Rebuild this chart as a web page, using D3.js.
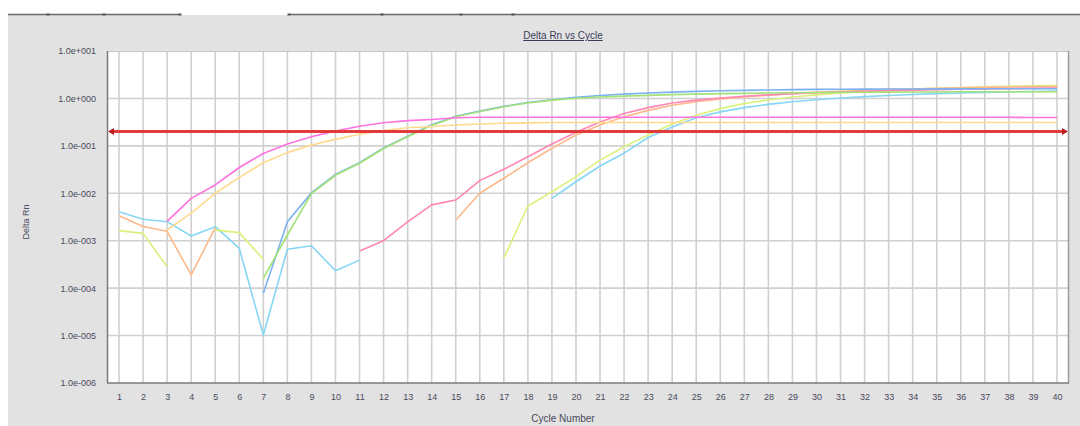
<!DOCTYPE html>
<html>
<head>
<meta charset="utf-8">
<script src="https://cdn.jsdelivr.net/npm/d3@7"></script>
<style>
  html, body { margin: 0; padding: 0; background: #ffffff; }
  svg { display: block; }
  text { font-family: "Liberation Sans", Arial, sans-serif; }
</style>
</head>
<body>
<svg id="chart" width="1080" height="426"></svg>
<script>
// ---------- data ----------
const cycles = [1,2,3,4,5,6,7,8,9,10,11,12,13,14,15,16,17,18,19,20,
                21,22,23,24,25,26,27,28,29,30,31,32,33,34,35,36,37,38,39,40];

const yTickValues = [1e-6, 1e-5, 1e-4, 1e-3, 1e-2, 1e-1, 1e0, 1e1];
const threshold = 0.2;

const lightBlue = [4.09e-3, 2.83e-3, 2.52e-3, 1.26e-3, 1.98e-3, 6.9e-4, 1.03e-5, 6.6e-4, 7.85e-4, 2.33e-4,
                   3.9e-4, null, null, null, null, null, null, null, 7.8e-3, 1.75e-2,
                   3.76e-2, 7.0e-2, 0.15, 0.25, 0.39, 0.52, 0.64, 0.75, 0.85, 0.94,
                   1.02, 1.09, 1.15, 1.21, 1.26, 1.30, 1.34, 1.37, 1.40, 1.43];

const yellowGreen = [1.63e-3, 1.43e-3, 2.83e-4, null, 1.67e-3, 1.48e-3, 4.05e-4, null, null, null,
                     null, null, null, null, null, null, 4.3e-4, 5.4e-3, 1.08e-2, 2.24e-2,
                     5.0e-2, 9.6e-2, 0.17, 0.29, 0.44, 0.61, 0.78, 0.93, 1.07, 1.19,
                     1.30, 1.40, 1.49, 1.57, 1.64, 1.70, 1.75, 1.80, 1.84, 1.88];

const orange = [3.37e-3, 2.0e-3, 1.58e-3, 1.9e-4, 1.88e-3, null, null, null, null, null,
                null, null, null, null, 2.7e-3, 1.0e-2, 2.07e-2, 4.4e-2, 8.9e-2, 0.17,
                0.275, 0.41, 0.56, 0.72, 0.85, 0.97, 1.08, 1.17, 1.26, 1.34,
                1.41, 1.47, 1.53, 1.58, 1.63, 1.67, 1.71, 1.74, 1.77, 1.79];

const pink = [null, null, null, null, null, null, null, null, null, null,
              6.1e-4, 1.0e-3, 2.5e-3, 5.7e-3, 7.2e-3, 1.85e-2, 3.2e-2, 5.9e-2, 0.109, 0.193,
              0.32, 0.48, 0.64, 0.80, 0.92, 1.02, 1.11, 1.19, 1.26, 1.32,
              1.37, 1.42, 1.46, 1.50, 1.53, 1.56, 1.59, 1.61, 1.63, 1.65];

const blue = [null, null, null, null, null, null, 7.8e-5, 2.5e-3, 1.02e-2, 0.025,
              0.044, 0.090, 0.16, 0.28, 0.42, 0.54, 0.68, 0.82, 0.94, 1.06,
              1.15, 1.23, 1.30, 1.36, 1.41, 1.45, 1.48, 1.51, 1.53, 1.55,
              1.56, 1.57, 1.58, 1.58, 1.59, 1.59, 1.60, 1.60, 1.60, 1.60];

const green = [null, null, null, null, null, null, 1.6e-4, 1.32e-3, 9.8e-3, 0.024,
               0.043, 0.088, 0.155, 0.27, 0.41, 0.53, 0.67, 0.80, 0.92, 1.01,
               1.07, 1.12, 1.16, 1.20, 1.23, 1.26, 1.28, 1.30, 1.32, 1.33,
               1.34, 1.35, 1.36, 1.37, 1.37, 1.38, 1.38, 1.38, 1.38, 1.38];

const yellow = [null, null, 1.7e-3, 3.8e-3, 1.0e-2, 2.17e-2, 4.4e-2, 7.2e-2, 0.104, 0.137,
                0.175, 0.21, 0.24, 0.255, 0.275, 0.29, 0.30, 0.305, 0.31, 0.31,
                0.31, 0.31, 0.31, 0.31, 0.31, 0.31, 0.31, 0.31, 0.31, 0.31,
                0.31, 0.31, 0.31, 0.31, 0.31, 0.31, 0.31, 0.31, 0.31, 0.31];

const magenta = [null, null, 2.55e-3, 7.8e-3, 1.5e-2, 3.5e-2, 6.9e-2, 0.109, 0.156, 0.206,
                 0.26, 0.308, 0.34, 0.36, 0.39, 0.40, 0.40, 0.40, 0.40, 0.40,
                 0.40, 0.40, 0.40, 0.40, 0.40, 0.40, 0.40, 0.40, 0.40, 0.40,
                 0.40, 0.40, 0.40, 0.40, 0.40, 0.40, 0.40, 0.40, 0.395, 0.395];

const seriesList = [
  { values: lightBlue,   color: "#86d6f6" },
  { values: yellowGreen, color: "#d9f27c" },
  { values: orange,      color: "#ffb88a" },
  { values: pink,        color: "#ff86b6" },
  { values: blue,        color: "#7cb2f0" },
  { values: green,       color: "#a2e276" },
  { values: yellow,      color: "#ffd98c" },
  { values: magenta,     color: "#ff72e0" }
];

// ---------- layout ----------
const W = 1080, H = 426;
const plot = { left: 107, right: 1069, top: 51, bottom: 383 };

const svg = d3.select("#chart");

// white area + tab strip
svg.append("rect").attr("x", 0).attr("y", 0).attr("width", W).attr("height", H).attr("fill", "#ffffff");
svg.append("rect").attr("x", 8).attr("y", 15).attr("width", W - 8).attr("height", H - 15).attr("fill", "#e2e2e2");

const tabSegs = [[8, 180], [289, 1080]];
tabSegs.forEach(s => {
  svg.append("line").attr("x1", s[0]).attr("x2", s[1]).attr("y1", 14.5).attr("y2", 14.5)
    .attr("stroke", "#6a6a6a").attr("stroke-width", 1.6);
});
[48, 104, 180, 289, 382, 461, 513].forEach(x => {
  svg.append("rect").attr("x", x - 1.5).attr("y", 13.5).attr("width", 3).attr("height", 2).attr("fill", "#555");
});

// plot background
svg.append("rect").attr("x", plot.left).attr("y", plot.top)
  .attr("width", plot.right - plot.left).attr("height", plot.bottom - plot.top)
  .attr("fill", "#ffffff");

const x = d3.scaleLinear().domain([0.5, 40.5]).range([plot.left, plot.right]);
const y = d3.scaleLog().domain([1e-6, 10]).range([plot.bottom, plot.top]);

// grid
const grid = svg.append("g");
grid.selectAll("line.v").data(cycles).join("line")
  .attr("x1", d => x(d)).attr("x2", d => x(d))
  .attr("y1", plot.top).attr("y2", plot.bottom)
  .attr("stroke", "#d0d0d0").attr("stroke-width", 1.6);
grid.selectAll("line.h").data(yTickValues.slice(1, -1)).join("line")
  .attr("x1", plot.left).attr("x2", plot.right)
  .attr("y1", d => y(d)).attr("y2", d => y(d))
  .attr("stroke", "#d0d0d0").attr("stroke-width", 1.6);

// frame
svg.append("line").attr("x1", plot.left).attr("x2", plot.right).attr("y1", plot.top + 0.5).attr("y2", plot.top + 0.5)
  .attr("stroke", "#c8c8c8").attr("stroke-width", 1);
svg.append("line").attr("x1", plot.right - 0.5).attr("x2", plot.right - 0.5).attr("y1", plot.top).attr("y2", plot.bottom)
  .attr("stroke", "#9a9a9a").attr("stroke-width", 1.5);
svg.append("line").attr("x1", plot.left + 0.5).attr("x2", plot.left + 0.5).attr("y1", plot.top).attr("y2", plot.bottom)
  .attr("stroke", "#7a7a7a").attr("stroke-width", 1.5);
svg.append("line").attr("x1", plot.left).attr("x2", plot.right).attr("y1", plot.bottom).attr("y2", plot.bottom)
  .attr("stroke", "#7a7a7a").attr("stroke-width", 1.5);

// axes (labels only)
function fmt(v) {
  const e = Math.round(Math.log10(v));
  const s = e >= 0 ? "+" : "-";
  return "1.0e" + s + String(Math.abs(e)).padStart(3, "0");
}
const yAxis = d3.axisLeft(y).tickValues(yTickValues).tickFormat(fmt).tickSize(0).tickPadding(11);
const gy = svg.append("g").attr("transform", `translate(${plot.left},0)`).call(yAxis);
gy.select(".domain").remove();
gy.selectAll("text").attr("font-size", 9).attr("fill", "#4a4a5c")
  .attr("font-family", "'Liberation Sans', Arial, sans-serif");

const xAxis = d3.axisBottom(x).tickValues(cycles).tickFormat(d3.format("d")).tickSize(0).tickPadding(11);
const gx = svg.append("g").attr("transform", `translate(0,${plot.bottom})`).call(xAxis);
gx.select(".domain").remove();
gx.selectAll("text").attr("font-size", 9).attr("fill", "#4a4a5c")
  .attr("font-family", "'Liberation Sans', Arial, sans-serif");

// lines
const line = d3.line()
  .defined(d => d.v !== null)
  .x(d => x(d.c))
  .y(d => y(d.v));

const lines = svg.append("g").attr("fill", "none");
seriesList.forEach(s => {
  const pts = cycles.map((c, i) => ({ c: c, v: s.values[i] }));
  lines.append("path").datum(pts)
    .attr("d", line)
    .attr("stroke", s.color)
    .attr("stroke-width", 1.6)
    .attr("stroke-linejoin", "round");
});

// threshold
const ty = y(threshold);
svg.append("line").attr("x1", plot.left + 3).attr("x2", plot.right - 3)
  .attr("y1", ty).attr("y2", ty)
  .attr("stroke", "#e23b3b").attr("stroke-width", 3);
svg.append("path")
  .attr("d", `M${plot.left + 1},${ty} L${plot.left + 7},${ty - 3.5} L${plot.left + 7},${ty + 3.5} Z`)
  .attr("fill", "#b82020");
svg.append("path")
  .attr("d", `M${plot.right - 1},${ty} L${plot.right - 7},${ty - 3.5} L${plot.right - 7},${ty + 3.5} Z`)
  .attr("fill", "#b82020");

// titles
svg.append("text").attr("x", 563).attr("y", 39)
  .attr("text-anchor", "middle").attr("font-size", 10).attr("fill", "#3c3c5a")
  .attr("text-decoration", "underline")
  .text("Delta Rn vs Cycle");

svg.append("text")
  .attr("transform", "translate(29,222) rotate(-90)")
  .attr("text-anchor", "middle").attr("font-size", 9).attr("fill", "#4a4a5c")
  .text("Delta Rn");

svg.append("text").attr("x", 563).attr("y", 422)
  .attr("text-anchor", "middle").attr("font-size", 10).attr("fill", "#4a4a5c")
  .text("Cycle Number");
</script>
</body>
</html>
